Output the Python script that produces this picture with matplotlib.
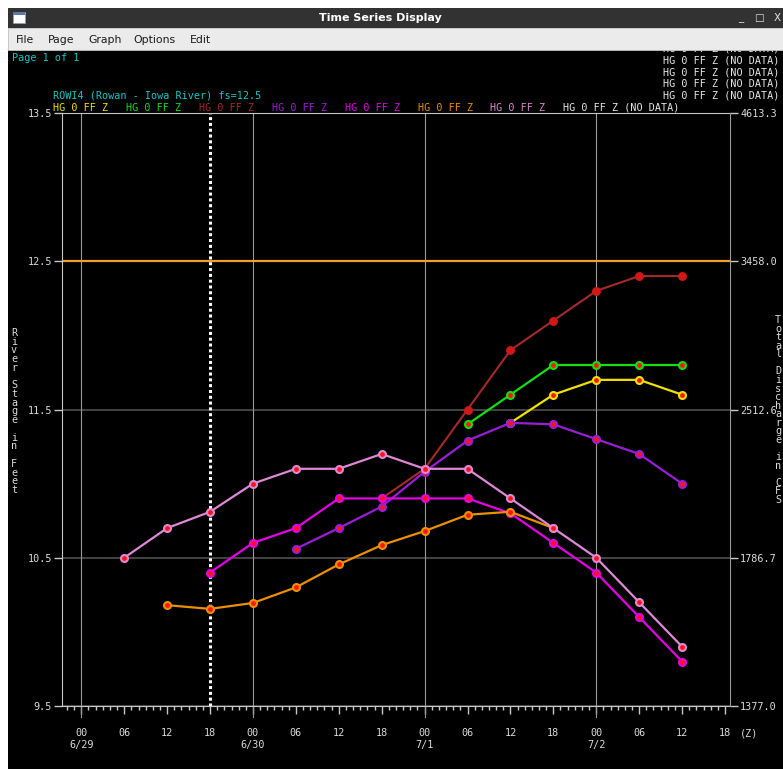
import matplotlib.pyplot as plt
from matplotlib.patches import Rectangle
from matplotlib.ticker import FixedLocator, MultipleLocator

W, H = 783, 769

plt.rcParams['font.family'] = 'DejaVu Sans Mono'

# stage series, hours after 6/29 00Z
t_yellow = [60, 66, 72, 78, 84]
y_yellow = [11.41, 11.60, 11.70, 11.70, 11.60]
t_green = [54, 60, 66, 72, 78, 84]
y_green = [11.40, 11.60, 11.80, 11.80, 11.80, 11.80]
t_brown = [42, 48, 54, 60, 66, 72, 78, 84]
y_brown = [10.90, 11.10, 11.50, 11.90, 12.10, 12.30, 12.40, 12.40]
t_purple = [30, 36, 42, 48, 54, 60, 66, 72, 78, 84]
y_purple = [10.56, 10.70, 10.845, 11.08, 11.29, 11.41, 11.40, 11.30, 11.20, 11.00]
t_magenta = [18, 24, 30, 36, 42, 48, 54, 60, 66, 72, 78, 84]
y_magenta = [10.40, 10.60, 10.70, 10.90, 10.90, 10.90, 10.90, 10.80, 10.60, 10.40, 10.10, 9.80]
t_orange = [12, 18, 24, 30, 36, 42, 48, 54, 60, 66]
y_orange = [10.18, 10.155, 10.195, 10.30, 10.455, 10.585, 10.68, 10.79, 10.81, 10.70]
t_pink = [6, 12, 18, 24, 30, 36, 42, 48, 54, 60, 66, 72, 78, 84]
y_pink = [10.50, 10.70, 10.81, 11.00, 11.10, 11.10, 11.20, 11.10, 11.10, 10.90, 10.70, 10.50, 10.20, 9.90]

flood_stage = 12.5
now_hour = 18

stage_ticks = [9.5, 10.5, 11.5, 12.5, 13.5]
discharge_labels = ['1377.0', '1786.7', '2512.6', '3458.0', '4613.3']
day_labels = ['6/29', '6/30', '7/1', '7/2']
hour_ticks = [0, 6, 12, 18, 24, 30, 36, 42, 48, 54, 60, 66, 72, 78, 84, 90]

c_yellow = '#f2e000'
c_green = '#12e012'
c_brown = '#a52a2a'
c_purple = '#9a1ed8'
c_magenta = '#e600e6'
c_orange = '#ec9000'
c_pink = '#de88d6'
c_flood = '#f0a028'


def fx(px):
    return px / W


def fy(py):
    return 1 - py / H


fig = plt.figure(figsize=(W / 100, H / 100), dpi=100, facecolor='white')

# window frame
fig.add_artist(Rectangle((fx(8), 0), 1, fy(50), transform=fig.transFigure,
                         facecolor='black', edgecolor='none', zorder=0))
fig.add_artist(Rectangle((fx(8), fy(28)), 1, 20 / H, transform=fig.transFigure,
                         facecolor='#323232', edgecolor='none', zorder=5))
fig.add_artist(Rectangle((fx(8), fy(50)), 1, 22 / H, transform=fig.transFigure,
                         facecolor='#ebebeb', edgecolor='#c0c0c0', lw=0.6, zorder=5))
fig.add_artist(Rectangle((fx(13), fy(23)), 12 / W, 11 / H, transform=fig.transFigure,
                         facecolor='white', edgecolor='#90a0b8', lw=0.6, zorder=6))
fig.add_artist(Rectangle((fx(13), fy(15)), 12 / W, 3 / H, transform=fig.transFigure,
                         facecolor='#5a78a8', edgecolor='none', zorder=7))
fig.text(fx(380), fy(18), 'Time Series Display', color='white', fontsize=8,
         fontweight='bold', family='DejaVu Sans', ha='center', va='center', zorder=8)
for xp, s in [(741, '_'), (759, '\u25a1'), (777, 'X')]:
    fig.text(fx(xp), fy(18), s, color='#e0e0e0', fontsize=7.5, family='DejaVu Sans',
             ha='center', va='center', zorder=8)
for xp, s in [(16, 'File'), (48, 'Page'), (88, 'Graph'), (133, 'Options'), (190, 'Edit')]:
    fig.text(fx(xp), fy(40), s, color='#1a1a1a', fontsize=7.8, family='DejaVu Sans',
             ha='left', va='center', zorder=8)

fs = 7.3
fig.text(fx(12), fy(58), 'Page 1 of 1', color='#18c8c8', fontsize=fs, va='center')
fig.text(fx(53), fy(96), 'ROWI4 (Rowan - Iowa River) fs=12.5', color='#18c8c8',
         fontsize=fs, va='center')

legend_colors = [c_yellow, c_green, c_brown, c_purple, c_magenta, c_orange, c_pink]
for i, c in enumerate(legend_colors):
    fig.text(fx(53 + i * 72.9), fy(108), 'HG 0 FF Z', color=c, fontsize=fs, va='center')
fig.text(fx(53 + 7 * 72.9), fy(108), 'HG 0 FF Z (NO DATA)', color='#e8e8e8',
         fontsize=fs, va='center')
for yp in [48.5, 60.3, 72.1, 83.9, 95.7]:
    fig.text(fx(779), fy(yp), 'HG 0 FF Z (NO DATA)', color='#e8e8e8', fontsize=fs,
             ha='right', va='center', zorder=3)

# stacked axis titles
for i, ch in enumerate('River Stage in Feet'):
    fig.text(fx(14), fy(333 + i * 8.72), ch, color='#dcdcdc', fontsize=fs,
             ha='center', va='center')
for i, ch in enumerate('Total Discharge in CFS'):
    fig.text(fx(778), fy(320 + i * 8.57), ch, color='#dcdcdc', fontsize=fs,
             ha='center', va='center')

ax = fig.add_axes([fx(62), fy(706), (730 - 62) / W, (706 - 113) / H])
ax.set_facecolor('black')
ax.set_xlim(-2.7, 90.7)
ax.set_ylim(stage_ticks[0], stage_ticks[-1])

for s in ['left', 'bottom', 'top']:
    ax.spines[s].set_color('#c8c8c8')
ax.spines['right'].set_visible(False)

ax.set_yticks(stage_ticks)
ax.set_yticklabels(['%.1f' % v for v in stage_ticks])
ax.yaxis.grid(True, color='#4a4a4a', lw=1.3)
ax.set_axisbelow(True)

xlabels = []
for h in hour_ticks:
    s = '%02d' % (h % 24)
    if h % 24 == 0:
        s += '\n' + day_labels[h // 24]
    xlabels.append(s)
ax.xaxis.set_major_locator(FixedLocator(hour_ticks))
ax.set_xticklabels(xlabels, linespacing=1.3, va='top')
ax.xaxis.set_minor_locator(MultipleLocator(1))

ax.tick_params(axis='x', which='major', length=5.8, width=1, color='#c8c8c8',
               direction='out', pad=10, labelsize=fs, labelcolor='#dcdcdc')
ax.tick_params(axis='x', which='minor', length=3.2, width=1, color='#c8c8c8',
               direction='out')
ax.tick_params(axis='y', length=5.8, width=1, color='#c8c8c8', direction='out',
               pad=1.5, labelsize=fs, labelcolor='#dcdcdc')

fig.text(fx(740), fy(733), '(Z)', color='#dcdcdc', fontsize=fs, ha='left', va='center')

# midnight lines, running a little below the axis
for d in [0, 24, 48, 72]:
    ax.plot([d, d], [-0.019, 1], color='#9a9a9a', lw=0.8,
            transform=ax.get_xaxis_transform(), clip_on=False, zorder=1)

ax.axhline(flood_stage, color=c_flood, lw=1.6, zorder=2)
ax.axvline(now_hour, color='white', lw=2.2, ls=(0, (1.0, 0.9)), zorder=2)

series = [
    (t_yellow, y_yellow, c_yellow),
    (t_green, y_green, c_green),
    (t_brown, y_brown, c_brown),
    (t_purple, y_purple, c_purple),
    (t_magenta, y_magenta, c_magenta),
    (t_orange, y_orange, c_orange),
    (t_pink, y_pink, c_pink),
]
for t, y, c in series:
    if c == c_brown:
        ax.plot(t, y, color=c, lw=1.5, marker='o', ms=5.4, mfc='#d01818',
                mec='#d01818', mew=1, zorder=3)
    else:
        ax.plot(t, y, color=c, lw=1.6, marker='o', ms=5.0, mfc='#ff1414',
                mec=c, mew=1.5, zorder=3)

ax2 = ax.twinx()
ax2.set_ylim(stage_ticks[0], stage_ticks[-1])
ax2.set_yticks(stage_ticks)
ax2.set_yticklabels(discharge_labels)
for s in ['left', 'bottom', 'top']:
    ax2.spines[s].set_visible(False)
ax2.spines['right'].set_color('#9a9a9a')
ax2.tick_params(axis='y', length=5.8, width=1, color='#c8c8c8', direction='out',
                pad=1.5, labelsize=fs, labelcolor='#dcdcdc')

plt.savefig('out.png', dpi=100, facecolor=fig.get_facecolor())
